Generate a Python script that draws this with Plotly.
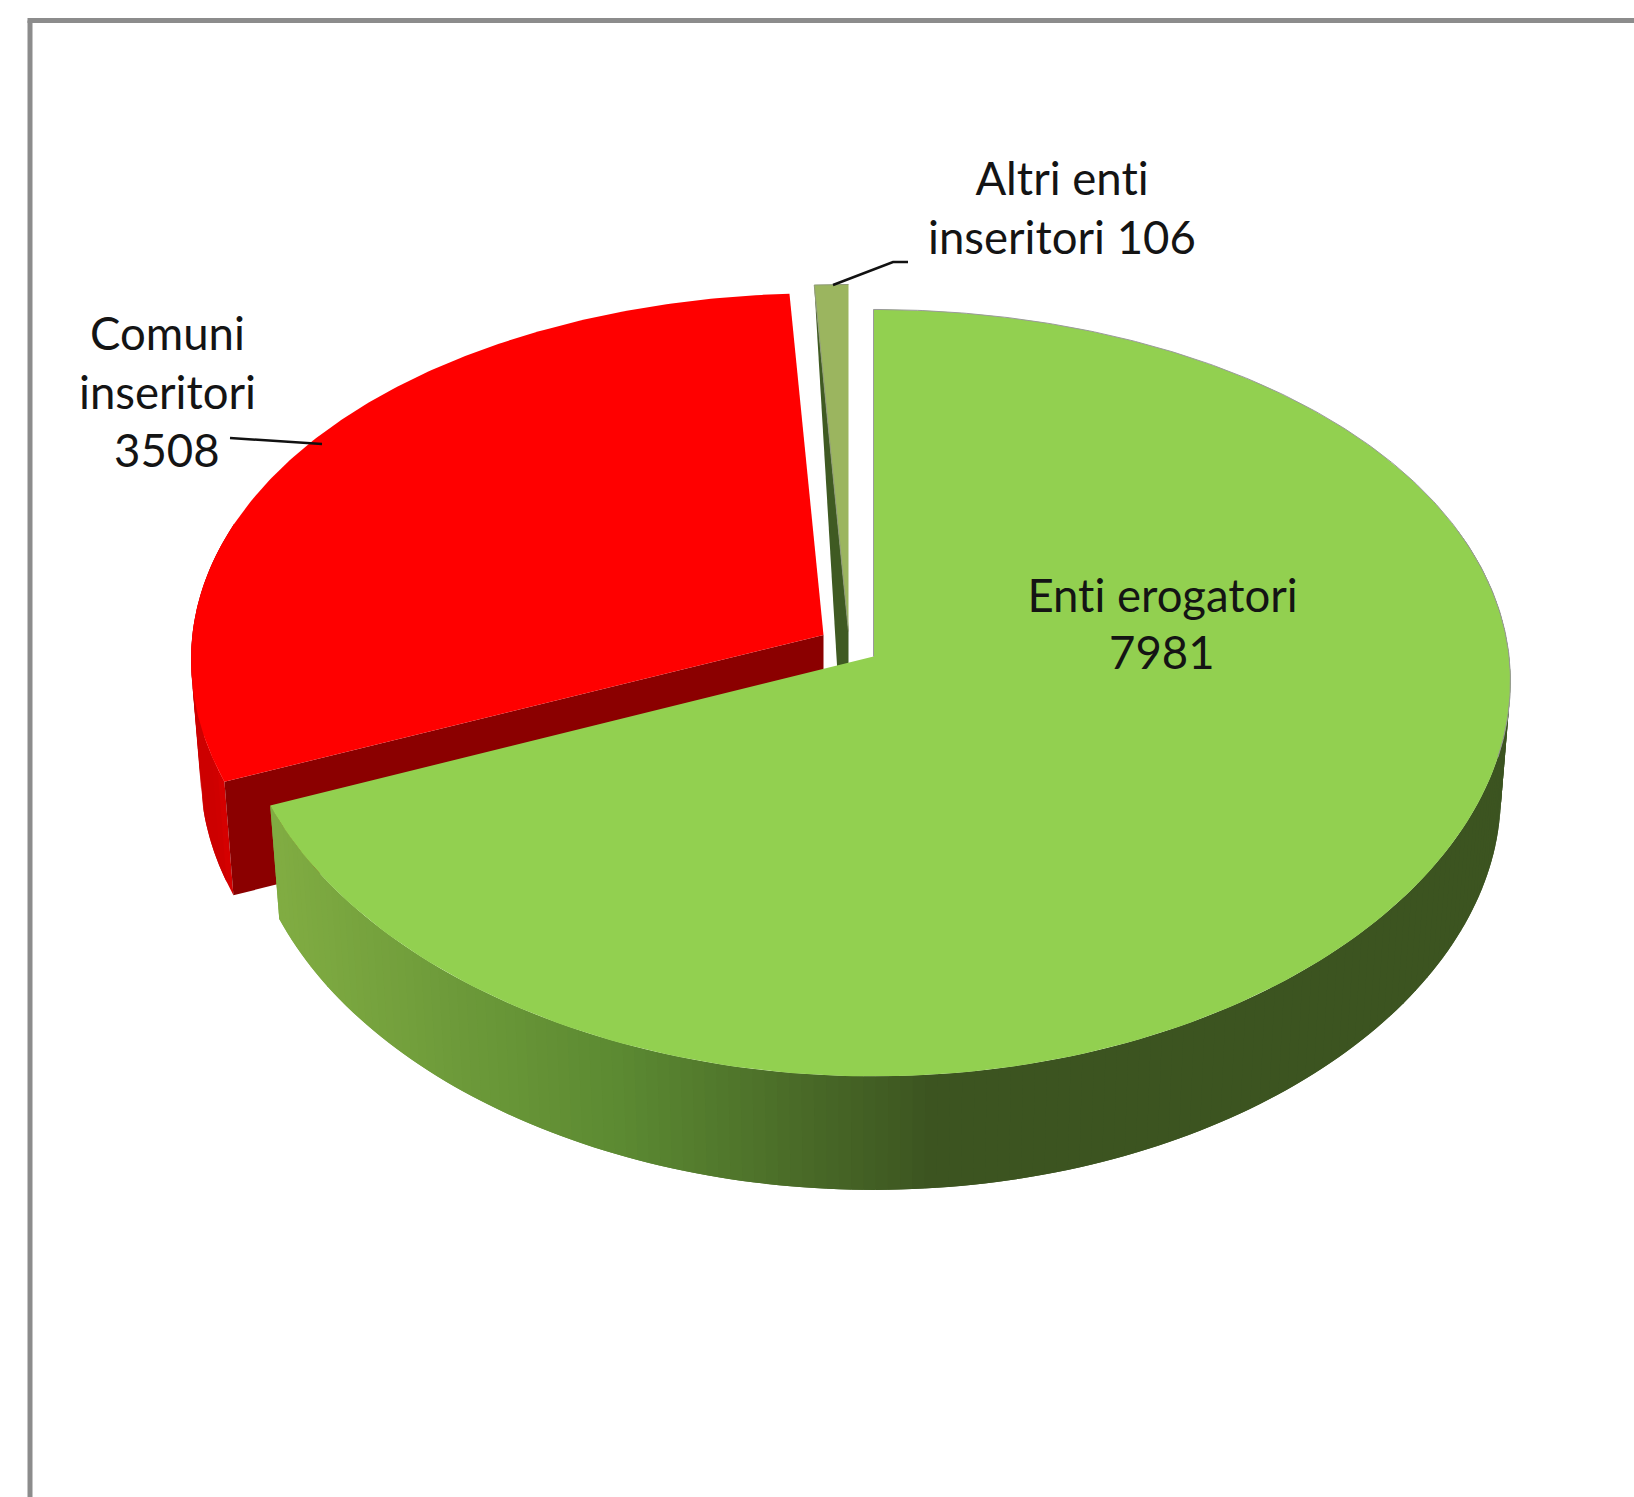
import numpy as np
import plotly.graph_objects as go

# Data
categories = ["Enti erogatori", "Comuni inseritori", "Altri enti inseritori"]
values = [7981, 3508, 106]
label_lines = [["Enti erogatori", "7981"], ["Comuni", "inseritori", "3508"], ["Altri enti", "inseritori 106"]]

# Look of the 3D pie (pixels of the page)
CX, CY, A, B, KX, KY, DEPTH, SHRINK = 873.5, 656.5, 635.6, 380.0, 0.065, 0.095, 113.5, 0.985
offsets = [(0, 0), (-50, -21.5), (-25, -25)]
scales = [(1, 1), (0.993, 0.985), (1, 1)]
top_colors = ["#92D050", "#FF0000", "#9BB55F"]
face_colors = [None, "#8B0000", "#3F5A22"]
label_pos = [(1162, [594, 651]), (167, [332, 391, 449]), (1062, [177, 236])]
leaders = [[(833, 285), (893, 262), (908, 262)], [(230, 438), (322, 444)]]
WEDGE_FOOT = (-11, 42)
FONT = "Lato"
FONT_SIZE = 45.5

fig = go.Figure()

def project(theta, i, lower=False):
    th = np.radians(theta)
    s, c = np.sin(th), np.cos(th)
    o, sc = offsets[i], scales[i]
    f = SHRINK if lower else 1.0
    d = DEPTH if lower else 0.0
    return (CX + o[0] + f * sc[0] * A * s / (1 + KX * c),
            CY + o[1] + d - sc[1] * B * c / (1 + KY * c))

def poly(xs, ys, color, width=0.0, line=None):
    fig.add_trace(go.Scatter(x=list(xs), y=list(ys), mode="lines", fill="toself", fillcolor=color,
                             line=dict(color=line or color, width=width), hoverinfo="skip", showlegend=False))

def mix(c1, c2, t):
    t = min(max(t, 0), 1)
    return "rgb(%d,%d,%d)" % tuple(round(a + (b - a) * t) for a, b in zip(c1, c2))

total = sum(values)
spans = [v / total * 360 for v in values]
starts = np.cumsum([0] + spans[:-1])
ends = [s + w for s, w in zip(starts, spans)]

def rim(i, t0=None, t1=None):
    t = np.linspace(starts[i] if t0 is None else t0, ends[i] if t1 is None else t1, 200)
    return project(t, i)

def wall(i, t0, t1, colorfn, n):
    # Bands overlap the next one so that no seam shows
    edges = np.linspace(t0, t1, n + 1)
    for a, b in zip(edges[:-1], edges[1:]):
        t = np.linspace(a, t1 if b == edges[-1] else b + (b - a), 4)
        x1, y1 = project(t, i)
        x2, y2 = project(t[::-1], i, True)
        poly(np.r_[x1, x2], np.r_[y1, y2], colorfn(project(a, i)[0]))

def inner_face(i, theta):
    o = offsets[i]
    ax, ay = project(theta, i)
    bx, by = project(theta, i, True)
    poly([CX + o[0], ax, bx, CX + o[0]], [CY + o[1], ay, by, CY + o[1] + DEPTH], face_colors[i])

# Altri enti: narrow dark wedge of its inner wall + top
ox, oy = CX + offsets[2][0], CY + offsets[2][1]
ax, ay = project(starts[2], 2)
poly([ox, ax, ox + WEDGE_FOOT[0], ox, ox], [oy, ay, oy + WEDGE_FOOT[1], oy + WEDGE_FOOT[1], oy], face_colors[2])
x, y = rim(2)
poly(np.r_[ox, x], np.r_[oy, y], top_colors[2], 1, "#8f9a78")

# Comuni: outer wall, inner wall, top
wall(1, ends[0], ends[0] + 40, lambda px: mix((205, 0, 0), (240, 0, 0), (px - 215) / 40), 20)
inner_face(1, starts[1])
x, y = rim(1)
poly(np.r_[CX + offsets[1][0], x], np.r_[CY + offsets[1][1], y], top_colors[1])

# Enti erogatori: outer wall with shading, then top
def green_shade(px):
    if px < 620:
        return mix((128, 172, 66), (92, 138, 50), (px - 280) / 340)
    return mix((92, 138, 50), (60, 84, 32), (px - 620) / 320)

wall(0, 70, ends[0], green_shade, 170)
x, y = rim(0)
poly(np.r_[CX, x], np.r_[CY, y], top_colors[0])
xr, yr = rim(0, 0, 105)
fig.add_trace(go.Scatter(x=np.r_[CX, xr], y=np.r_[CY, yr], mode="lines", line=dict(color="#9a9a9a", width=1),
                         hoverinfo="skip", showlegend=False))

# Leader lines
for pts in leaders:
    fig.add_trace(go.Scatter(x=[p[0] for p in pts], y=[p[1] for p in pts], mode="lines",
                             line=dict(color="#111111", width=2.5), hoverinfo="skip", showlegend=False))

# Labels
for lines, (lx, lys) in zip(label_lines, label_pos):
    for text, ly in zip(lines, lys):
        fig.add_annotation(x=lx, y=ly, text=text, showarrow=False, xanchor="center", yanchor="middle",
                           font=dict(family=FONT, size=FONT_SIZE, color="#141414"))

# Chart frame, running off the picture to the right and below
fig.add_shape(type="line", x0=30, x1=30, y0=20.5, y1=1497, line=dict(color="#8c8c8c", width=5))
fig.add_shape(type="line", x0=27.5, x1=1634, y0=20.5, y1=20.5, line=dict(color="#8c8c8c", width=5))

fig.update_layout(width=1634, height=1497, margin=dict(l=0, r=0, t=0, b=0), paper_bgcolor="white",
                  plot_bgcolor="white", showlegend=False,
                  xaxis=dict(range=[0, 1634], visible=False, fixedrange=True),
                  yaxis=dict(range=[1497, 0], visible=False, fixedrange=True))
fig.write_html("out.html", config={"displayModeBar": False},
               post_script="document.body.style.margin='0';document.body.style.overflow='hidden';"
                           "var s=document.createElement('style');"
                           "s.textContent='svg text{font-variant-ligatures:none !important;text-rendering:optimizeSpeed !important}';"
                           "document.head.appendChild(s);")
